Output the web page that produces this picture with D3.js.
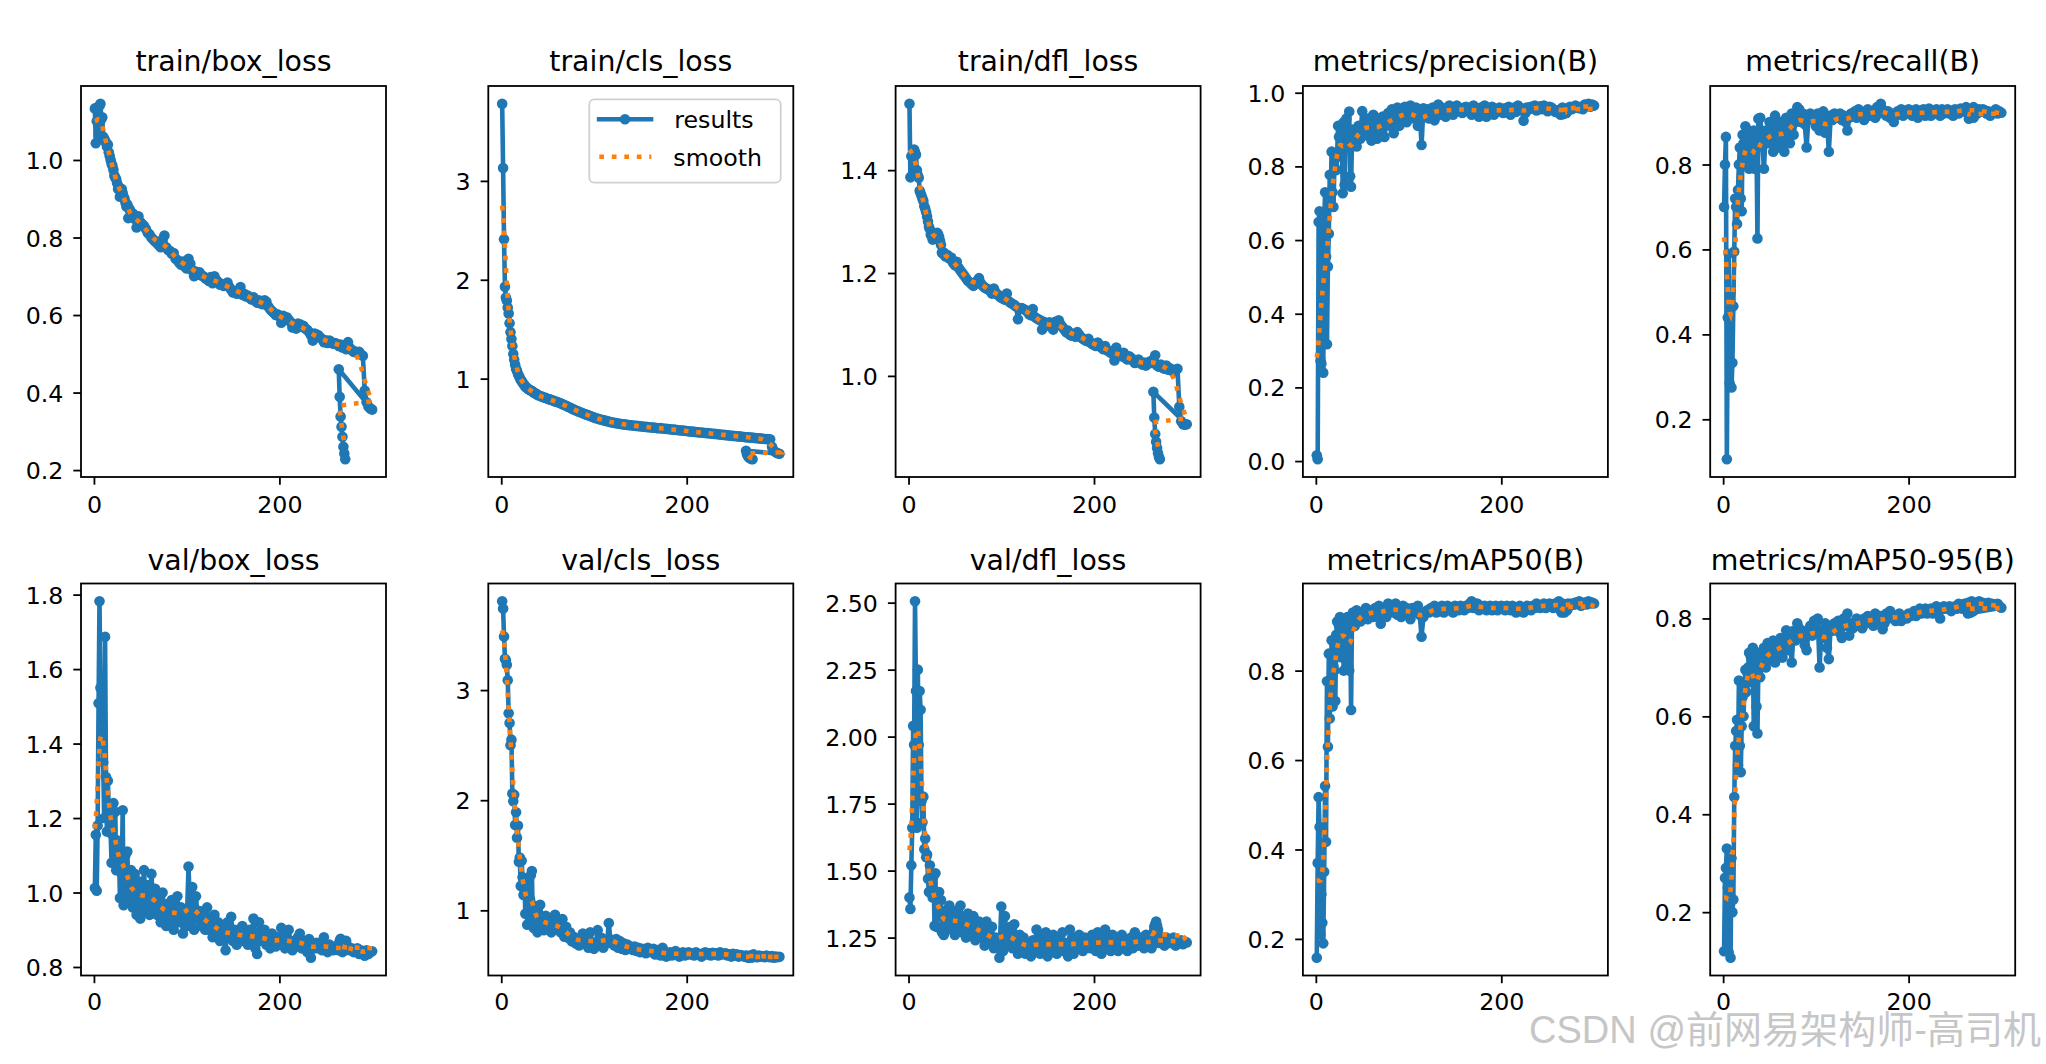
<!DOCTYPE html>
<html>
<head>
<meta charset="utf-8">
<script src="https://cdn.jsdelivr.net/npm/d3@7"></script>
<style>
  body { margin: 0; background: #fff; }
  svg text { font-family: "DejaVu Sans", sans-serif; fill: #000; }
</style>
</head>
<body>
<svg id="fig" width="2046" height="1064"></svg>
<script>
// epochs (rows of results.csv): 1..40, every 2nd epoch to 300, then the resumed rows
var epochs = [
  1,2,3,4,5,6,7,8,9,10, 11,12,13,14,15,16,17,18,19,20,
  21,22,23,24,25,26,27,28,29,30, 31,32,33,34,35,36,37,38,39,40,
  42,44,46,48,50,52,54,56,58,60, 62,64,66,68,70,72,74,76,78,80,
  82,84,86,88,90,92,94,96,98,100, 102,104,106,108,110,112,114,116,118,120,
  122,124,126,128,130,132,134,136,138,140, 142,144,146,148,150,152,154,156,158,160,
  162,164,166,168,170,172,174,176,178,180, 182,184,186,188,190,192,194,196,198,200,
  202,204,206,208,210,212,214,216,218,220, 222,224,226,228,230,232,234,236,238,240,
  242,244,246,248,250,252,254,256,258,260, 262,264,266,268,270,272,274,276,278,280,
  282,284,286,288,290,292,294,296,298,300,
  264,265,266,267,268,269,270,271
];

var trainBoxLoss = [
  1.133,1.043,1.10,1.135,1.065,1.14,1.145,1.105,1.11,1.06,
  1.055,1.05,1.045,1.035,1.04,1.02,1.01,1.0,0.99,0.985,
  0.975,0.96,0.955,0.95,0.94,0.925,0.93,0.905,0.92,0.925,
  0.915,0.905,0.9,0.89,0.88,0.885,0.85,0.875,0.87,0.86,
  0.862,0.848,0.826,0.855,0.84,0.835,0.83,0.822,0.812,0.808,
  0.80,0.795,0.79,0.785,0.78,0.775,0.795,0.805,0.775,0.768,
  0.765,0.758,0.76,0.745,0.742,0.735,0.73,0.738,0.725,0.72,
  0.745,0.732,0.715,0.70,0.712,0.705,0.71,0.702,0.70,0.695,
  0.692,0.688,0.698,0.682,0.70,0.69,0.685,0.678,0.68,0.675,
  0.68,0.684,0.672,0.665,0.658,0.662,0.655,0.66,0.672,0.652,
  0.655,0.648,0.65,0.644,0.64,0.646,0.636,0.632,0.638,0.63,
  0.628,0.638,0.634,0.622,0.615,0.61,0.606,0.60,0.602,0.596,
  0.58,0.598,0.592,0.594,0.588,0.582,0.568,0.575,0.565,0.578,
  0.576,0.57,0.572,0.565,0.562,0.556,0.548,0.534,0.552,0.55,
  0.548,0.542,0.538,0.53,0.535,0.528,0.534,0.53,0.526,0.528,
  0.526,0.52,0.524,0.516,0.518,0.512,0.53,0.515,0.51,0.505,
  0.506,0.502,0.505,0.498,0.495,0.405,0.375,0.364,0.359,0.356,
  0.46,0.389,0.338,0.312,0.286,0.26,0.243,0.228
];

var trainClsLoss = [
  3.78,3.13,2.41,1.93,1.82,1.79,1.72,1.66,1.56,1.47,
  1.40,1.33,1.25,1.19,1.14,1.10,1.08,1.05,1.03,1.01,
  0.99,0.975,0.96,0.945,0.935,0.92,0.91,0.905,0.895,0.89,
  0.885,0.88,0.875,0.87,0.86,0.855,0.85,0.845,0.838,0.832,
  0.825,0.818,0.81,0.805,0.797,0.79,0.785,0.778,0.77,0.765,
  0.758,0.75,0.742,0.733,0.725,0.716,0.707,0.698,0.689,0.68,
  0.672,0.665,0.658,0.65,0.643,0.636,0.629,0.622,0.615,0.608,
  0.60,0.596,0.59,0.585,0.58,0.575,0.57,0.566,0.56,0.556,
  0.553,0.55,0.546,0.543,0.54,0.537,0.535,0.532,0.53,0.528,
  0.526,0.524,0.522,0.52,0.518,0.516,0.514,0.512,0.51,0.508,
  0.506,0.505,0.503,0.50,0.498,0.50,0.496,0.494,0.492,0.49,
  0.488,0.486,0.484,0.482,0.48,0.478,0.476,0.475,0.473,0.471,
  0.468,0.466,0.464,0.462,0.46,0.458,0.456,0.455,0.453,0.451,
  0.449,0.447,0.445,0.443,0.441,0.44,0.437,0.435,0.433,0.431,
  0.429,0.427,0.425,0.423,0.421,0.42,0.418,0.416,0.414,0.412,
  0.41,0.408,0.406,0.405,0.403,0.401,0.399,0.397,0.396,0.394,
  0.392,0.39,0.389,0.387,0.386,0.31,0.27,0.255,0.245,0.24,
  0.27,0.235,0.215,0.205,0.198,0.192,0.188,0.185
];

var trainDflLoss = [
  1.529,1.386,1.427,1.39,1.43,1.44,1.435,1.43,1.40,1.39,
  1.385,1.36,1.355,1.35,1.345,1.34,1.33,1.325,1.318,1.31,
  1.30,1.29,1.285,1.275,1.272,1.265,1.27,1.268,1.275,1.27,
  1.278,1.275,1.27,1.262,1.255,1.24,1.238,1.24,1.235,1.232,
  1.235,1.228,1.23,1.22,1.215,1.222,1.21,1.205,1.20,1.195,
  1.19,1.185,1.182,1.178,1.175,1.18,1.185,1.19,1.18,1.175,
  1.172,1.17,1.168,1.165,1.16,1.17,1.162,1.158,1.155,1.152,
  1.15,1.148,1.16,1.145,1.142,1.14,1.138,1.135,1.11,1.13,
  1.132,1.13,1.128,1.125,1.12,1.118,1.13,1.115,1.112,1.11,
  1.108,1.09,1.105,1.10,1.098,1.104,1.095,1.09,1.105,1.10,
  1.108,1.10,1.095,1.09,1.085,1.088,1.08,1.078,1.082,1.076,
  1.085,1.08,1.075,1.072,1.07,1.068,1.072,1.065,1.062,1.06,
  1.058,1.065,1.06,1.055,1.052,1.058,1.05,1.048,1.045,1.048,
  1.03,1.055,1.042,1.04,1.038,1.045,1.035,1.032,1.038,1.035,
  1.03,1.025,1.028,1.032,1.025,1.022,1.026,1.02,1.024,1.028,
  1.025,1.032,1.04,1.02,1.018,1.022,1.016,1.014,1.02,1.012,
  1.015,1.01,1.008,1.012,1.014,0.94,0.912,0.906,0.905,0.906,
  0.969,0.919,0.887,0.872,0.86,0.85,0.843,0.838
];

var precision = [
  0.016,0.005,0.649,0.678,0.272,0.265,0.62,0.24,0.65,0.73,
  0.555,0.317,0.528,0.617,0.777,0.71,0.84,0.73,0.69,0.80,
  0.82,0.79,0.835,0.91,0.88,0.91,0.85,0.90,0.727,0.92,
  0.75,0.89,0.93,0.90,0.86,0.949,0.773,0.745,0.87,0.90,
  0.88,0.854,0.91,0.875,0.95,0.90,0.885,0.93,0.92,0.87,
  0.94,0.89,0.875,0.93,0.90,0.935,0.88,0.92,0.945,0.91,
  0.955,0.89,0.93,0.96,0.91,0.95,0.935,0.962,0.92,0.955,
  0.965,0.94,0.93,0.96,0.91,0.95,0.858,0.958,0.94,0.955,
  0.93,0.95,0.96,0.925,0.955,0.968,0.94,0.96,0.955,0.935,
  0.955,0.965,0.95,0.94,0.96,0.965,0.95,0.955,0.945,0.96,
  0.962,0.95,0.955,0.94,0.965,0.958,0.95,0.935,0.96,0.948,
  0.965,0.935,0.955,0.95,0.962,0.94,0.955,0.948,0.96,0.952,
  0.945,0.958,0.95,0.962,0.94,0.955,0.96,0.948,0.965,0.955,
  0.958,0.924,0.945,0.96,0.955,0.962,0.958,0.965,0.952,0.96,
  0.963,0.955,0.965,0.958,0.95,0.962,0.96,0.955,0.948,0.952,
  0.945,0.955,0.96,0.95,0.945,0.958,0.962,0.955,0.96,0.965,
  0.96,0.958,0.962,0.955,0.968,0.965,0.97,0.962,0.968,0.965,
  0.94,0.945,0.95,0.942,0.948,0.95,0.945,0.948
];

var recall = [
  0.70,0.80,0.865,0.106,0.44,0.59,0.285,0.50,0.275,0.333,
  0.466,0.595,0.72,0.70,0.66,0.74,0.80,0.84,0.72,0.69,
  0.87,0.85,0.80,0.89,0.85,0.82,0.88,0.79,0.86,0.80,
  0.85,0.83,0.88,0.79,0.86,0.84,0.626,0.908,0.87,0.91,
  0.86,0.79,0.88,0.85,0.90,0.87,0.83,0.915,0.88,0.84,
  0.90,0.86,0.83,0.91,0.88,0.85,0.92,0.87,0.90,0.935,
  0.93,0.90,0.92,0.895,0.84,0.91,0.92,0.905,0.915,0.89,
  0.92,0.88,0.91,0.925,0.875,0.90,0.83,0.915,0.905,0.92,
  0.915,0.91,0.92,0.905,0.915,0.90,0.88,0.91,0.92,0.915,
  0.925,0.91,0.93,0.915,0.92,0.905,0.925,0.93,0.915,0.92,
  0.925,0.91,0.935,0.92,0.943,0.93,0.92,0.915,0.925,0.91,
  0.92,0.90,0.915,0.925,0.92,0.93,0.915,0.925,0.92,0.93,
  0.925,0.915,0.92,0.93,0.91,0.925,0.92,0.93,0.915,0.92,
  0.932,0.915,0.925,0.92,0.93,0.925,0.915,0.93,0.92,0.925,
  0.93,0.92,0.925,0.915,0.93,0.925,0.92,0.932,0.925,0.93,
  0.935,0.925,0.92,0.93,0.935,0.928,0.92,0.93,0.925,0.93,
  0.928,0.92,0.925,0.915,0.92,0.925,0.93,0.92,0.925,0.922,
  0.92,0.908,0.915,0.92,0.912,0.918,0.91,0.915
];

var valBoxLoss = [
  1.012,1.155,1.005,1.18,1.508,1.782,1.55,1.39,1.45,1.35,
  1.20,1.687,1.31,1.164,1.30,1.227,1.23,1.16,1.08,1.22,
  1.24,1.10,1.217,1.06,1.14,1.09,1.12,0.985,1.10,1.05,
  1.221,0.966,1.08,1.10,1.00,1.11,0.98,1.05,0.99,1.06,
  0.96,1.05,0.94,1.03,0.93,0.99,1.06,0.95,1.02,0.94,
  1.05,0.96,1.01,0.94,0.98,0.92,1.00,0.95,0.91,0.97,
  0.93,0.98,0.90,0.95,0.99,0.92,0.96,0.89,0.94,0.91,
  1.07,0.92,1.015,0.90,0.99,0.93,0.95,0.91,0.935,0.90,
  0.96,0.90,0.93,0.88,0.94,0.895,0.92,0.87,0.91,0.89,
  0.845,0.92,0.88,0.935,0.87,0.90,0.86,0.895,0.875,0.91,
  0.87,0.89,0.86,0.90,0.875,0.93,0.85,0.835,0.92,0.87,
  0.88,0.90,0.86,0.875,0.85,0.89,0.87,0.855,0.88,0.86,
  0.905,0.865,0.85,0.88,0.90,0.86,0.845,0.87,0.855,0.88,
  0.89,0.85,0.87,0.86,0.84,0.875,0.825,0.86,0.85,0.865,
  0.85,0.86,0.845,0.88,0.855,0.84,0.86,0.85,0.845,0.855,
  0.85,0.845,0.86,0.84,0.85,0.87,0.855,0.845,0.85,0.84,
  0.845,0.85,0.835,0.845,0.84,0.83,0.845,0.835,0.84,0.842,
  0.86,0.87,0.876,0.865,0.855,0.85,0.848,0.845
];

var valClsLoss = [
  3.806,3.74,3.487,3.285,3.27,3.23,3.09,2.79,2.70,2.50,
  2.55,2.06,1.99,2.05,1.775,1.89,1.66,1.77,1.44,1.48,
  1.22,1.45,1.30,1.14,1.26,0.97,1.18,0.87,1.23,0.95,
  1.10,1.32,1.357,0.95,0.84,1.04,1.00,0.92,0.80,0.90,
  1.05,0.88,0.82,0.95,0.85,0.90,0.80,0.87,0.96,0.84,
  0.86,0.80,0.92,0.76,0.85,0.75,0.80,0.72,0.76,0.70,
  0.74,0.68,0.72,0.79,0.70,0.75,0.66,0.80,0.71,0.65,
  0.70,0.82,0.68,0.75,0.66,0.72,0.70,0.885,0.71,0.73,
  0.68,0.74,0.66,0.72,0.65,0.70,0.64,0.69,0.66,0.67,
  0.64,0.67,0.63,0.66,0.62,0.65,0.64,0.61,0.66,0.63,
  0.62,0.65,0.60,0.64,0.62,0.59,0.66,0.61,0.58,0.60,
  0.62,0.59,0.61,0.63,0.60,0.58,0.61,0.62,0.59,0.60,
  0.62,0.60,0.61,0.59,0.62,0.605,0.60,0.58,0.61,0.62,
  0.60,0.61,0.59,0.615,0.60,0.61,0.59,0.62,0.60,0.605,
  0.61,0.59,0.60,0.58,0.605,0.59,0.60,0.58,0.595,0.59,
  0.58,0.59,0.575,0.59,0.58,0.60,0.585,0.575,0.59,0.58,
  0.585,0.575,0.59,0.58,0.575,0.585,0.57,0.58,0.575,0.578,
  0.585,0.575,0.58,0.57,0.575,0.58,0.572,0.575
];

var valDflLoss = [
  1.40,1.357,1.52,1.66,2.04,1.97,2.505,2.17,1.66,2.25,
  1.97,2.17,2.10,1.76,1.68,1.776,1.58,1.62,1.55,1.56,
  1.47,1.42,1.52,1.42,1.44,1.40,1.48,1.294,1.49,1.29,
  1.40,1.33,1.42,1.35,1.39,1.27,1.33,1.26,1.30,1.35,
  1.30,1.37,1.28,1.33,1.26,1.35,1.29,1.37,1.27,1.32,
  1.25,1.34,1.30,1.26,1.33,1.24,1.29,1.31,1.25,1.28,
  1.22,1.31,1.26,1.23,1.29,1.21,1.25,1.22,1.175,1.366,
  1.20,1.33,1.24,1.22,1.29,1.21,1.30,1.23,1.19,1.26,
  1.22,1.25,1.19,1.23,1.21,1.18,1.24,1.20,1.28,1.22,
  1.19,1.25,1.21,1.27,1.18,1.24,1.20,1.26,1.22,1.19,
  1.25,1.21,1.27,1.20,1.23,1.18,1.28,1.22,1.19,1.25,
  1.21,1.26,1.23,1.20,1.25,1.22,1.24,1.21,1.26,1.23,
  1.20,1.27,1.22,1.19,1.25,1.28,1.21,1.24,1.20,1.26,
  1.22,1.25,1.20,1.23,1.26,1.21,1.24,1.20,1.22,1.25,
  1.21,1.27,1.23,1.22,1.25,1.24,1.21,1.26,1.23,1.22,
  1.21,1.24,1.26,1.25,1.23,1.24,1.245,1.22,1.25,1.24,
  1.23,1.245,1.25,1.22,1.235,1.23,1.24,1.225,1.235,1.232,
  1.27,1.29,1.30,1.31,1.295,1.28,1.26,1.25
];

var mAP50 = [
  0.158,0.37,0.517,0.45,0.21,0.30,0.236,0.19,0.35,0.542,
  0.417,0.776,0.63,0.838,0.693,0.77,0.868,0.72,0.81,0.80,
  0.732,0.88,0.91,0.85,0.90,0.92,0.83,0.91,0.90,0.80,
  0.89,0.91,0.90,0.92,0.81,0.80,0.91,0.712,0.92,0.93,
  0.90,0.935,0.92,0.91,0.93,0.925,0.94,0.915,0.93,0.935,
  0.92,0.94,0.93,0.945,0.905,0.935,0.94,0.92,0.95,0.935,
  0.945,0.93,0.95,0.925,0.94,0.92,0.945,0.935,0.94,0.93,
  0.915,0.94,0.935,0.93,0.945,0.925,0.876,0.92,0.93,0.935,
  0.93,0.94,0.935,0.945,0.93,0.94,0.935,0.945,0.93,0.94,
  0.945,0.935,0.94,0.93,0.945,0.94,0.935,0.945,0.94,0.935,
  0.945,0.94,0.95,0.955,0.94,0.945,0.95,0.935,0.945,0.94,
  0.945,0.935,0.94,0.945,0.935,0.94,0.945,0.935,0.94,0.945,
  0.94,0.935,0.945,0.94,0.935,0.945,0.94,0.93,0.94,0.945,
  0.935,0.93,0.94,0.945,0.94,0.935,0.945,0.94,0.95,0.945,
  0.94,0.945,0.95,0.94,0.945,0.95,0.945,0.94,0.95,0.945,
  0.955,0.945,0.95,0.94,0.945,0.95,0.945,0.95,0.948,0.952,
  0.95,0.955,0.945,0.95,0.952,0.948,0.955,0.95,0.952,0.95,
  0.935,0.93,0.94,0.935,0.93,0.938,0.94,0.935
];

var mAP50_95 = [
  0.12,0.27,0.29,0.33,0.25,0.118,0.20,0.107,0.31,0.20,
  0.226,0.435,0.54,0.57,0.593,0.50,0.673,0.54,0.486,0.58,
  0.64,0.60,0.66,0.695,0.65,0.69,0.70,0.73,0.67,0.72,
  0.69,0.74,0.58,0.70,0.72,0.62,0.565,0.70,0.73,0.68,
  0.72,0.74,0.70,0.75,0.715,0.735,0.755,0.71,0.74,0.73,
  0.76,0.72,0.75,0.776,0.735,0.76,0.71,0.775,0.755,0.79,
  0.78,0.76,0.775,0.745,0.735,0.77,0.785,0.765,0.795,0.78,
  0.80,0.70,0.775,0.76,0.79,0.74,0.717,0.785,0.775,0.79,
  0.78,0.795,0.77,0.76,0.80,0.785,0.81,0.765,0.79,0.78,
  0.79,0.80,0.785,0.795,0.78,0.80,0.79,0.805,0.795,0.80,
  0.785,0.81,0.795,0.80,0.805,0.778,0.79,0.81,0.80,0.815,
  0.805,0.80,0.795,0.80,0.81,0.795,0.80,0.805,0.80,0.81,
  0.805,0.81,0.815,0.805,0.81,0.82,0.81,0.815,0.82,0.81,
  0.815,0.82,0.81,0.82,0.825,0.815,0.80,0.82,0.825,0.82,
  0.82,0.825,0.815,0.82,0.825,0.82,0.83,0.825,0.82,0.83,
  0.828,0.832,0.825,0.835,0.83,0.825,0.83,0.835,0.828,0.832,
  0.83,0.828,0.832,0.825,0.83,0.828,0.826,0.83,0.825,0.822,
  0.81,0.815,0.82,0.812,0.818,0.822,0.815,0.82
];

var titles = ["train/box_loss", "train/cls_loss", "train/dfl_loss", "metrics/precision(B)", "metrics/recall(B)",
              "val/box_loss", "val/cls_loss", "val/dfl_loss", "metrics/mAP50(B)", "metrics/mAP50-95(B)"];
var series = [trainBoxLoss, trainClsLoss, trainDflLoss, precision, recall,
              valBoxLoss, valClsLoss, valDflLoss, mAP50, mAP50_95];
var yTicks = [
  [0.2, 0.4, 0.6, 0.8, 1.0], [1, 2, 3], [1.0, 1.2, 1.4], [0.0, 0.2, 0.4, 0.6, 0.8, 1.0], [0.2, 0.4, 0.6, 0.8],
  [0.8, 1.0, 1.2, 1.4, 1.6, 1.8], [1, 2, 3], [1.25, 1.5, 1.75, 2.0, 2.25, 2.5], [0.2, 0.4, 0.6, 0.8], [0.2, 0.4, 0.6, 0.8]
];
var yTickFormats = [".1f", "d", ".1f", ".1f", ".1f", ".1f", "d", ".2f", ".1f", ".1f"];
var xTicks = [0, 200];
var legendLabels = ["results", "smooth"];

// look
var blue = "#1f77b4", orange = "#ff7f0e";
var tickFont = 23.7, titleFont = 28.4;
var panelW = 305, colStep = 407.3, left0 = 81;
var rows = [{top: 86, h: 391, xPad: 11.5, titleGap: 15.3}, {top: 583.5, h: 392, xPad: 10, titleGap: 13.5}];

// same smoothing as the source plot: gaussian_filter1d(y, sigma=3), mode reflect
function gaussianSmooth(y, sigma) {
  var r = Math.floor(4 * sigma + 0.5), w = [], s = 0;
  for (var k = -r; k <= r; k++) { var v = Math.exp(-0.5 * k * k / (sigma * sigma)); w.push(v); s += v; }
  var n = y.length;
  return y.map(function(_, i) {
    var acc = 0;
    for (var k = -r; k <= r; k++) {
      var j = i + k;
      if (j < 0) j = -j - 1;
      if (j >= n) j = 2 * n - j - 1;
      acc += w[k + r] * y[j];
    }
    return acc / s;
  });
}

// matplotlib style autoscale: 5% margins
function padded(ext) {
  var m = (ext[1] - ext[0]) * 0.05;
  return [ext[0] - m, ext[1] + m];
}

var svg = d3.select("#fig");
svg.append("rect").attr("width", 2046).attr("height", 1064).attr("fill", "#fff");

series.forEach(function(ys, i) {
  var row = rows[Math.floor(i / 5)];
  var left = left0 + (i % 5) * colStep, top = row.top, h = row.h;

  var x = d3.scaleLinear().domain(padded(d3.extent(epochs))).range([left, left + panelW]);
  var y = d3.scaleLinear().domain(padded(d3.extent(ys))).range([top + h, top]);

  var pts = epochs.map(function(e, k) { return [e, ys[k]]; });
  var sm = gaussianSmooth(ys, 3);
  var smPts = epochs.map(function(e, k) { return [e, sm[k]]; });

  var line = d3.line().x(function(d) { return x(d[0]); }).y(function(d) { return y(d[1]); });
  var g = svg.append("g");

  g.append("path").attr("d", line(pts))
    .attr("fill", "none").attr("stroke", blue).attr("stroke-width", 4.6)
    .attr("stroke-linejoin", "round");
  g.selectAll("circle.pt").data(pts).enter().append("circle")
    .attr("class", "pt")
    .attr("cx", function(d) { return x(d[0]); })
    .attr("cy", function(d) { return y(d[1]); })
    .attr("r", 5.3).attr("fill", blue);
  g.append("path").attr("d", line(smPts))
    .attr("fill", "none").attr("stroke", orange).attr("stroke-width", 4.6)
    .attr("stroke-dasharray", "4.7,7.8");

  // axes
  var ya = g.append("g").attr("transform", "translate(" + left + ",0)")
    .call(d3.axisLeft(y).tickValues(yTicks[i]).tickFormat(d3.format(yTickFormats[i])).tickSize(7.7).tickPadding(10));
  var xa = g.append("g").attr("transform", "translate(0," + (top + h) + ")")
    .call(d3.axisBottom(x).tickValues(xTicks).tickFormat(d3.format("d")).tickSize(7.7).tickPadding(row.xPad));
  [ya, xa].forEach(function(a) {
    a.select(".domain").remove();
    a.selectAll("line").attr("stroke", "#000").attr("stroke-width", 1.8);
    a.selectAll("text").attr("font-size", tickFont).attr("font-family", "DejaVu Sans").attr("fill", "#000");
  });
  ya.selectAll("text").attr("dy", "0.36em");

  // frame
  g.append("rect").attr("x", left).attr("y", top).attr("width", panelW).attr("height", h)
    .attr("fill", "none").attr("stroke", "#000").attr("stroke-width", 1.8);

  // title
  g.append("text").attr("x", left + panelW / 2).attr("y", top - row.titleGap)
    .attr("text-anchor", "middle").attr("font-size", titleFont).text(titles[i]);

  // legend on the second panel only
  if (i === 1) {
    var lg = g.append("g").attr("transform", "translate(" + (left + 101) + "," + (top + 13.3) + ")");
    lg.append("rect").attr("width", 191.4).attr("height", 83.4).attr("rx", 5)
      .attr("fill", "#fff").attr("fill-opacity", 0.8).attr("stroke", "#d0d0d0").attr("stroke-width", 1.8);
    lg.append("line").attr("x1", 7.5).attr("x2", 64).attr("y1", 20).attr("y2", 20)
      .attr("stroke", blue).attr("stroke-width", 4.6);
    lg.append("circle").attr("cx", 35.7).attr("cy", 20).attr("r", 5.3).attr("fill", blue);
    lg.append("line").attr("x1", 10).attr("x2", 62).attr("y1", 57.5).attr("y2", 57.5)
      .attr("stroke", orange).attr("stroke-width", 4.6).attr("stroke-dasharray", "4.7,7.8");
    lg.append("text").attr("x", 85).attr("y", 29).attr("font-size", tickFont).text(legendLabels[0]);
    lg.append("text").attr("x", 84).attr("y", 66.5).attr("font-size", tickFont).text(legendLabels[1]);
  }
});

// watermark
svg.append("text").attr("x", 1529).attr("y", 1043)
  .attr("font-size", 38)
  .style("font-family", "'Liberation Sans','Noto Sans CJK SC',sans-serif")
  .style("fill", "#c6c6c6")
  .attr("textLength", 512).attr("lengthAdjust", "spacing")
  .text("CSDN @前网易架构师-高司机");
</script>
</body>
</html>
